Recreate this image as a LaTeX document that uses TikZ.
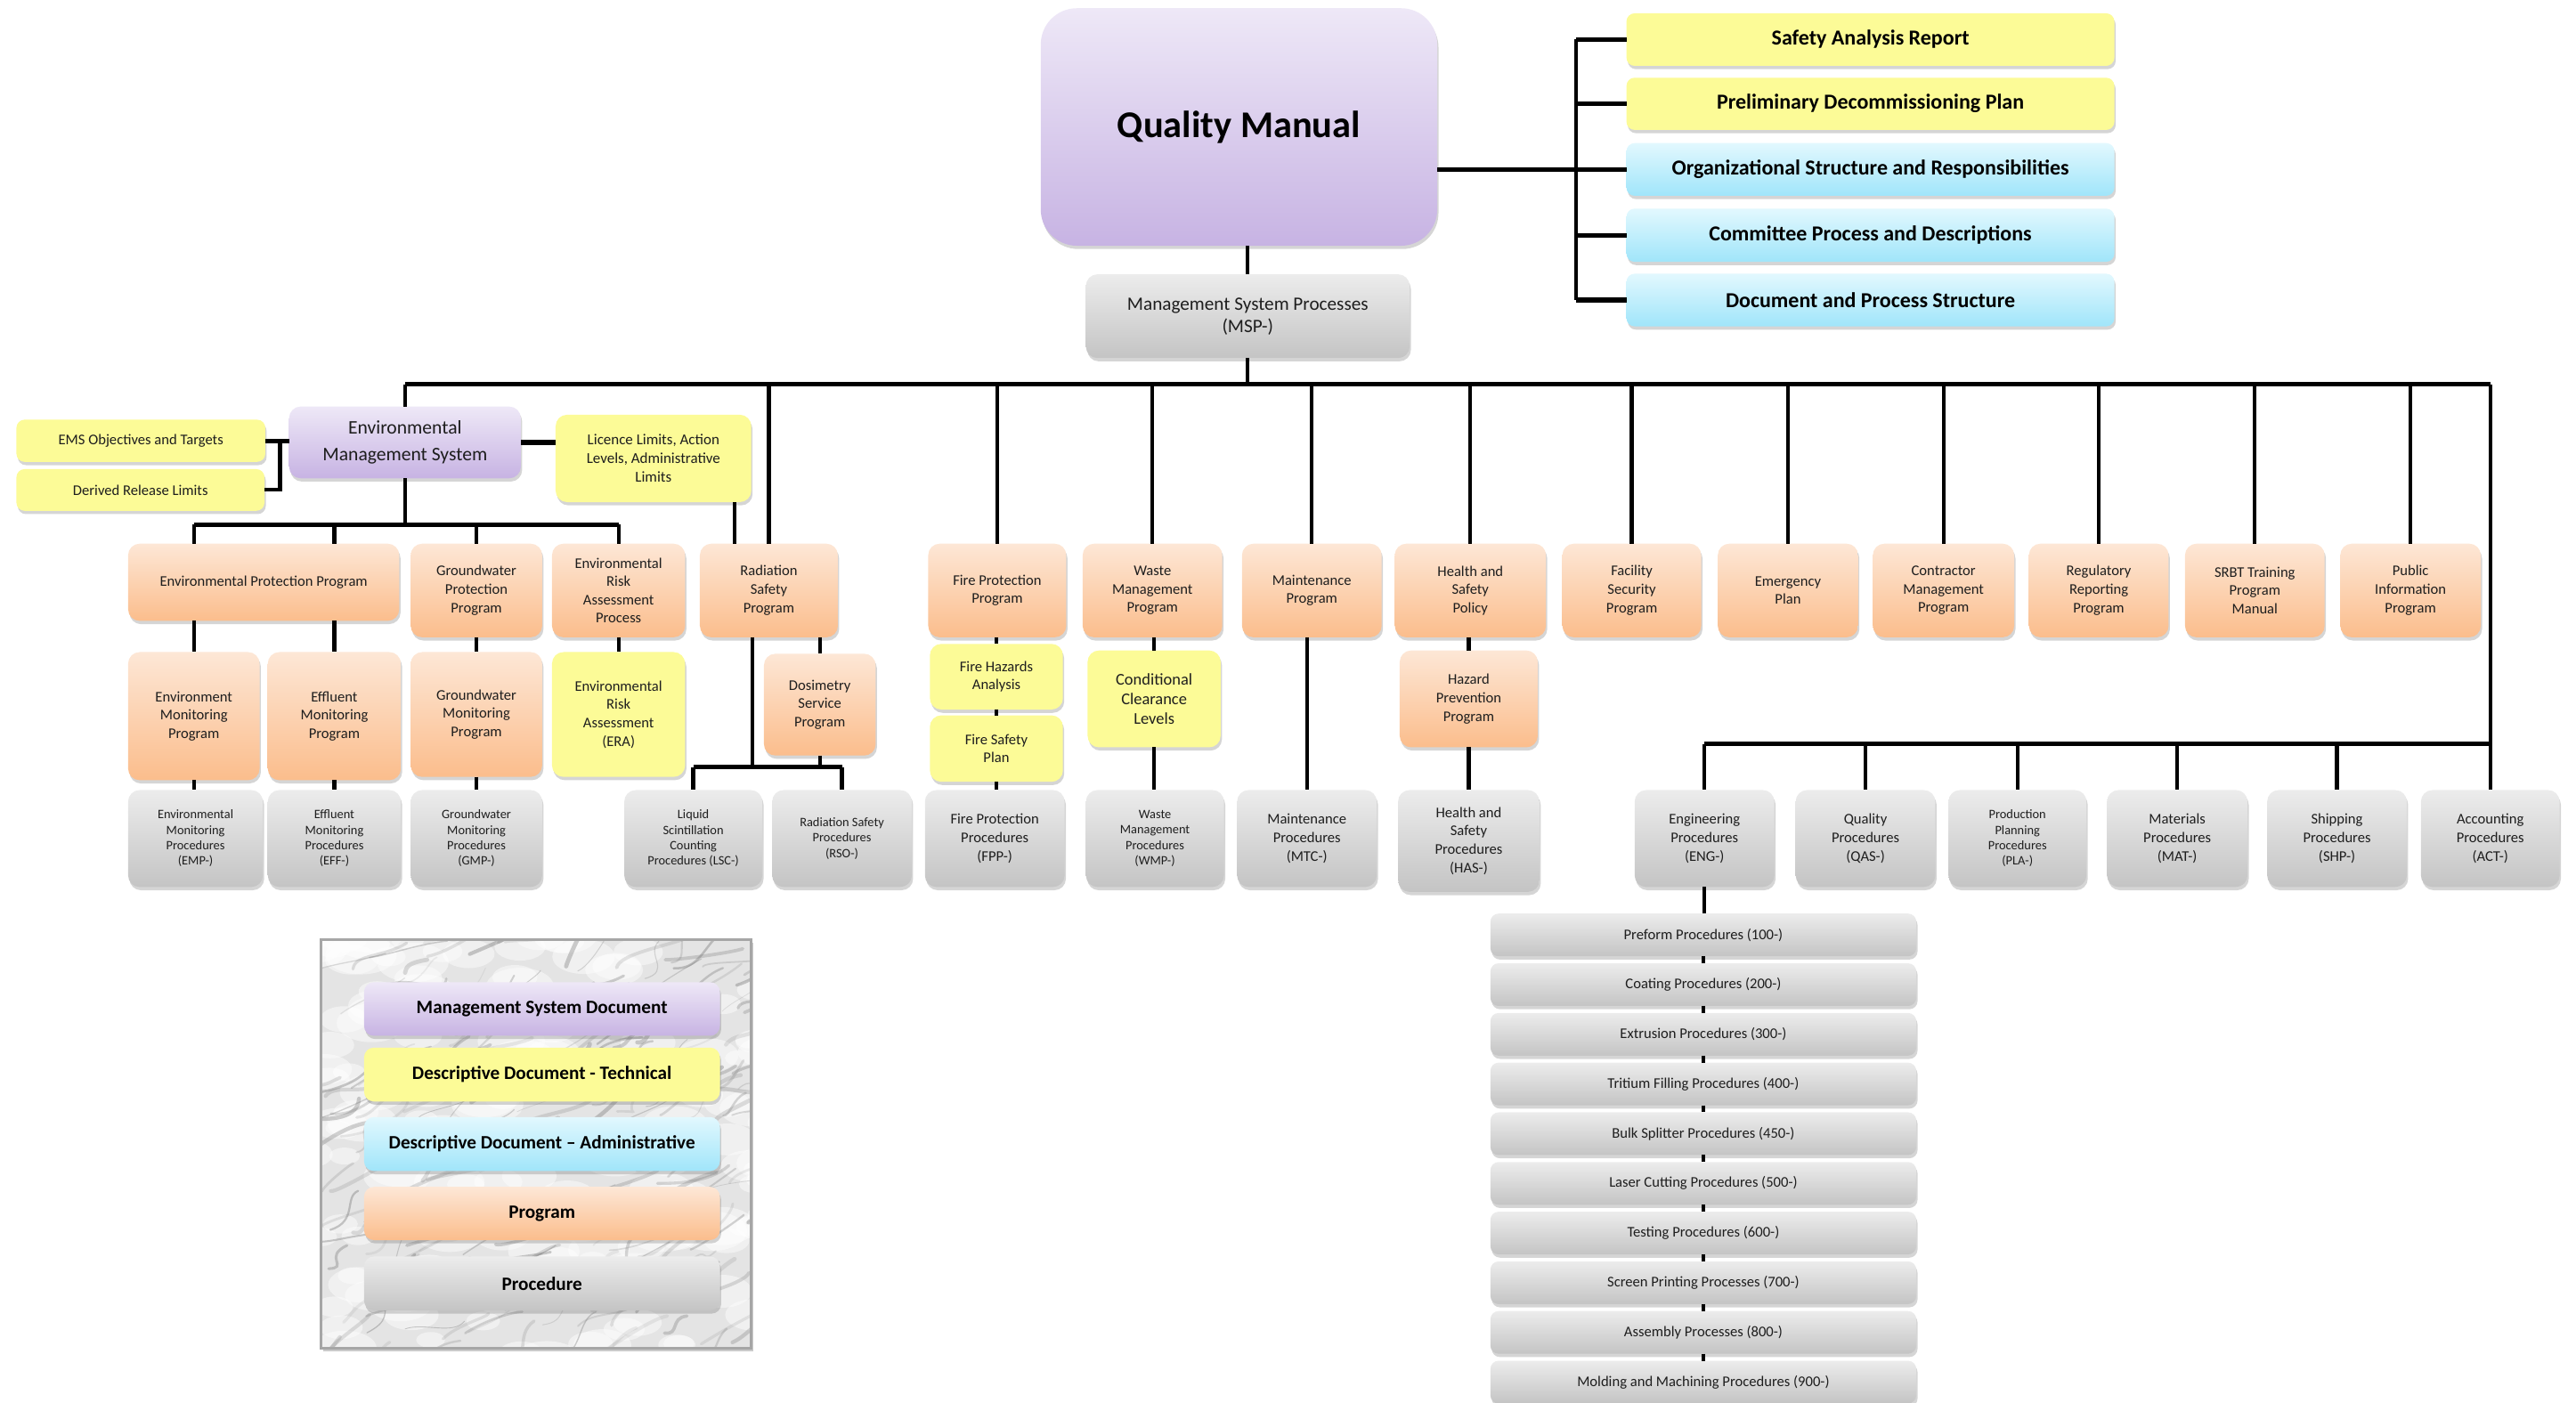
\documentclass[tikz,border=0pt]{standalone}
\usepackage{fontspec}
\setmainfont{Carlito}
\usetikzlibrary{shadows,calc}
\definecolor{cPurT}{HTML}{EEE8F7}
\definecolor{cPurB}{HTML}{C7B3E3}
\definecolor{cYel}{HTML}{FCFB97}
\definecolor{cBluT}{HTML}{E2F8FE}
\definecolor{cBluB}{HTML}{A0E5FA}
\definecolor{cOrT}{HTML}{FDE7D6}
\definecolor{cOrB}{HTML}{FBBD8C}
\definecolor{cGrT}{HTML}{ECECEC}
\definecolor{cGrB}{HTML}{C4C4C4}
\definecolor{txtC}{HTML}{1E1E1E}
\definecolor{cMarble}{HTML}{E4E4E4}
\tikzset{
  bxbase/.style={rounded corners=7pt, inner sep=1pt, outer sep=0pt, align=center, text=txtC,
    font=\fontsize{9}{11.2}\selectfont,
    drop shadow={shadow xshift=0.8pt, shadow yshift=-2pt, opacity=0.3, fill=black!55}},
  pur/.style={bxbase, top color=cPurT, bottom color=cPurB},
  yel/.style={bxbase, fill=cYel},
  blu/.style={bxbase, top color=cBluT, bottom color=cBluB},
  org/.style={bxbase, top color=cOrT, bottom color=cOrB},
  gry/.style={bxbase, top color=cGrT, bottom color=cGrB},
  fsm/.style={font=\fontsize{7.8}{9.4}\selectfont},
  trs/.style={font=\bfseries\fontsize{13}{15}\selectfont, text=black, rounded corners=5pt},
  legt/.style={font=\bfseries\fontsize{11.5}{13}\selectfont, text=black, rounded corners=6pt},
  lsty/.style={rounded corners=5pt},
  legframe/.style={draw=gray!70, line width=1.5pt, fill=cMarble, inner sep=0pt, outer sep=0pt,
    drop shadow={shadow xshift=1.5pt, shadow yshift=-2pt, opacity=0.35, fill=black!60}},
  conn/.style={line width=2.3pt, black},
  busl/.style={line width=2.8pt, black},
}
\newcommand{\bx}[7]{\node[#1, minimum width={(#5)-(#3)}, minimum height={(#6)-(#4)}] (#2) at ({((#3)+(#5))/2},{((#4)+(#6))/2}) {#7};}
\begin{document}
\begin{tikzpicture}[x=1pt,y=-1pt]
\useasboundingbox (0,0) rectangle (1568,853.7);

% ---------- top ----------
\bx{pur,rounded corners=22pt,font=\bfseries\fontsize{23}{27}\selectfont,text=black}{qm}{633.5}{5}{874.8}{149.6}{Quality Manual}
\bx{yel,trs}{sar}{990}{8.1}{1287}{40.1}{Safety Analysis Report}
\bx{yel,trs}{pdp}{990}{47.3}{1287}{79.1}{Preliminary Decommissioning Plan}
\bx{blu,trs}{org}{990}{87.1}{1287}{119.2}{Organizational Structure and Responsibilities}
\bx{blu,trs}{cpd}{990}{127}{1287}{159.4}{Committee Process and Descriptions}
\bx{blu,trs}{dps}{990}{166.6}{1287}{198.7}{Document and Process Structure}
\bx{gry,font=\fontsize{11.5}{13.5}\selectfont}{msp}{661}{167}{858}{218}{Management System Processes\\(MSP-)}

% ---------- EMS ----------
\bx{pur,font=\fontsize{11.7}{16.6}\selectfont}{ems}{176}{247.5}{317}{291.2}{Environmental\\Management System}
\bx{yel,rounded corners=5pt}{obj}{10}{255.5}{161.5}{281.2}{EMS Objectives and Targets}
\bx{yel,rounded corners=5pt}{drl}{10}{285.6}{161}{311}{Derived Release Limits}
\bx{yel,font=\fontsize{9.2}{11.4}\selectfont}{lic}{338.2}{252.5}{457.3}{305.7}{Licence Limits, Action\\Levels, Administrative\\Limits}

% ---------- row 2 ----------
\bx{org}{epp}{78}{331}{243}{378}{Environmental Protection Program}
\bx{org}{gpp}{250}{331}{330}{388}{Groundwater\\Protection\\Program}
\bx{org}{erap}{336}{331}{417}{388}{Environmental\\Risk\\Assessment\\Process}
\bx{org}{rsp}{426}{331}{510}{388}{Radiation\\Safety\\Program}
\bx{org}{fpprog}{565}{331}{649}{388}{Fire Protection\\Program}
\bx{org}{wmprog}{659}{331}{744}{388}{Waste\\Management\\Program}
\bx{org}{mp}{756}{331}{841}{388}{Maintenance\\Program}
\bx{org}{hsp}{849}{331}{941}{388}{Health and\\Safety\\Policy}
\bx{org}{fsp}{951}{331}{1035.5}{388}{Facility\\Security\\Program}
\bx{org}{ep}{1045.6}{331}{1131}{388}{Emergency\\Plan}
\bx{org}{cmp}{1140}{331}{1226}{388}{Contractor\\Management\\Program}
\bx{org}{rrp}{1235}{331}{1320}{388}{Regulatory\\Reporting\\Program}
\bx{org}{srbt}{1330}{331}{1415}{388}{SRBT Training\\Program\\Manual}
\bx{org}{pip}{1424.5}{331}{1510}{388}{Public\\Information\\Program}

% ---------- row 3 ----------
\bx{org}{envmon}{78}{397}{158}{475}{Environment\\Monitoring\\Program}
\bx{org}{eff}{163}{397}{244}{475}{Effluent\\Monitoring\\Program}
\bx{org}{gmprog}{250}{397}{330}{473}{Groundwater\\Monitoring\\Program}
\bx{yel}{era}{336}{397}{417}{473}{Environmental\\Risk\\Assessment\\(ERA)}
\bx{org}{dos}{465}{398}{533}{460}{Dosimetry\\Service\\Program}
\bx{yel}{fha}{566}{392}{647}{432}{Fire Hazards\\Analysis}
\bx{yel}{fsplan}{566}{435.5}{647}{476}{Fire Safety\\Plan}
\bx{yel,font=\fontsize{10}{12.1}\selectfont}{ccl}{662}{396}{743}{455}{Conditional\\Clearance\\Levels}
\bx{org}{hpp}{852}{396}{936}{455}{Hazard\\Prevention\\Program}

% ---------- row 4 ----------
\bx{gry,fsm}{emp}{78}{481}{160}{540}{Environmental\\Monitoring\\Procedures\\(EMP-)}
\bx{gry,fsm}{effp}{163}{481}{244}{540}{Effluent\\Monitoring\\Procedures\\(EFF-)}
\bx{gry,fsm}{gmp}{250}{481}{330}{540}{Groundwater\\Monitoring\\Procedures\\(GMP-)}
\bx{gry,fsm}{lsc}{380}{481}{464}{540}{Liquid\\Scintillation\\Counting\\Procedures (LSC-)}
\bx{gry,fsm}{rso}{470}{481}{555}{540}{Radiation Safety\\Procedures\\(RSO-)}
\bx{gry}{fpp}{563}{481}{648}{540}{Fire Protection\\Procedures\\(FPP-)}
\bx{gry,fsm}{wmp}{661}{481}{745}{540}{Waste\\Management\\Procedures\\(WMP-)}
\bx{gry}{mtc}{753}{481}{838}{540}{Maintenance\\Procedures\\(MTC-)}
\bx{gry}{has}{851}{481}{937}{543}{Health and\\Safety\\Procedures\\(HAS-)}
\bx{gry}{eng}{995}{481}{1080}{540}{Engineering\\Procedures\\(ENG-)}
\bx{gry}{qas}{1093}{481}{1178}{540}{Quality\\Procedures\\(QAS-)}
\bx{gry,fsm}{pla}{1186}{481}{1270}{540}{Production\\Planning\\Procedures\\(PLA-)}
\bx{gry}{mat}{1282.5}{481}{1368}{540}{Materials\\Procedures\\(MAT-)}
\bx{gry}{shp}{1380}{481}{1465}{540}{Shipping\\Procedures\\(SHP-)}
\bx{gry}{act}{1473.6}{481}{1558}{540}{Accounting\\Procedures\\(ACT-)}

% ---------- engineering list ----------
\foreach \t [count=\i from 0] in {Preform Procedures (100-),Coating Procedures (200-),Extrusion Procedures (300-),Tritium Filling Procedures (400-),Bulk Splitter Procedures (450-),Laser Cutting Procedures (500-),Testing Procedures (600-),Screen Printing Processes (700-),Assembly Processes (800-),Molding and Machining Procedures (900-)}{
  \bx{gry,lsty}{l\i}{907.2}{556.2+30.25*\i}{1166.4}{582.2+30.25*\i}{\t}
}

% ---------- legend ----------
\bx{legframe}{legend}{195.5}{572}{457.2}{821}{}
\begin{scope}
  \clip (legend.south west) rectangle (legend.north east);
  \pgfmathsetseed{42}
  \foreach \i in {1,...,160}{
    \pgfmathsetmacro{\xa}{185+285*rnd}
    \pgfmathsetmacro{\ya}{568+265*rnd}
    \pgfmathsetmacro{\rr}{8+14*rnd}
    \fill[white, opacity=0.45] (\xa,\ya) ellipse [x radius=\rr, y radius=0.55*\rr];
  }
  \foreach \i in {1,...,230}{
    \pgfmathsetmacro{\xa}{185+285*rnd}
    \pgfmathsetmacro{\ya}{570+265*rnd}
    \pgfmathsetmacro{\xb}{\xa+8+40*rnd}
    \pgfmathsetmacro{\yb}{\ya-4-22*rnd}
    \pgfmathsetmacro{\cxa}{\xa+18*rnd}
    \pgfmathsetmacro{\cya}{\ya+12*rnd-10}
    \pgfmathsetmacro{\cxb}{\xb-18*rnd}
    \pgfmathsetmacro{\cyb}{\yb+12*rnd}
    \pgfmathsetmacro{\lw}{0.4+2.2*rnd}
    \pgfmathsetmacro{\op}{0.10+0.28*rnd}
    \draw[black!55, line width=\lw pt, opacity=\op, line cap=round] (\xa,\ya) .. controls (\cxa,\cya) and (\cxb,\cyb) .. (\xb,\yb);
  }
\end{scope}
\draw[gray!70, line width=1.5pt] (legend.south west) rectangle (legend.north east);
\bx{pur,legt}{lg1}{221.6}{598}{438.2}{630.6}{Management System Document}
\bx{yel,legt}{lg2}{221.6}{637.8}{438.2}{670.6}{Descriptive Document - Technical}
\bx{blu,legt}{lg3}{221.6}{680.1}{438.2}{712.9}{Descriptive Document – Administrative}
\bx{org,legt}{lg4}{221.6}{722.6}{438.2}{755}{Program}
\bx{gry,legt}{lg5}{221.6}{765}{438.2}{797.8}{Procedure}

% ---------- connectors ----------
\coordinate (busY) at (0,234);
\coordinate (qv) at (959.3,0);
\coordinate (ov) at (170.5,0);
\coordinate (sbE) at (0,319.5);
\coordinate (sbR) at (0,467);
\coordinate (sbP) at (0,453);
\coordinate (lv) at (447,0);
\coordinate (rv1) at (458,0);

% quality manual
\draw[busl] (qm.east |- org.west) -- (qv |- org.west);
\draw[conn] (qv |- sar.west) -- (qv |- dps.west);
\foreach \n in {sar,pdp,org,cpd,dps} \draw[busl] (qv |- \n.west) -- (\n.west);
\draw[conn] (qm.south -| msp.north) -- (msp.north);
\draw[conn] (msp.south) -- (msp.south |- busY);

% main bus
\draw[busl] (ems.north |- busY) -- (act.north |- busY);
\foreach \n in {ems,rsp,fpprog,wmprog,mp,hsp,fsp,ep,cmp,rrp,srbt,pip} \draw[conn] (\n.north |- busY) -- (\n.north);
\draw[conn] (act.north |- busY) -- (act.north);

% EMS group
\draw[busl] (obj.east) -- (obj.east -| ems.west);
\draw[conn] (obj.east -| ov) -- (drl.east -| ov) -- (drl.east);
\draw[busl] (ems.east) -- (ems.east -| lic.west);
\draw[conn] (ems.south) -- (ems.south |- sbE);
\draw[busl] (envmon.north |- sbE) -- (erap.north |- sbE);
\draw[conn] (envmon.north |- sbE) -- (envmon.north |- epp.north);
\draw[conn] (eff.north |- sbE) -- (eff.north |- epp.north);
\draw[conn] (gpp.north |- sbE) -- (gpp.north);
\draw[conn] (erap.north |- sbE) -- (erap.north);
\draw[conn] (envmon.north |- epp.south) -- (envmon.north);
\draw[conn] (eff.north |- epp.south) -- (eff.north);
\draw[conn] (gpp.south) -- (gmprog.north);
\draw[conn] (erap.south) -- (era.north);
\draw[conn] (envmon.south) -- (envmon.south |- emp.north);
\draw[conn] (eff.south) -- (eff.south |- effp.north);
\draw[conn] (gmprog.south) -- (gmprog.south |- gmp.north);

% radiation safety
\draw[conn] (lv |- lic.south) -- (lv |- rsp.north);
\draw[conn] (rv1 |- rsp.south) -- (rv1 |- sbR);
\draw[conn] (dos.north |- rsp.south) -- (dos.north);
\draw[conn] (dos.south) -- (dos.south |- sbR);
\draw[busl] (lsc.north |- sbR) -- (rso.north |- sbR);
\draw[conn] (lsc.north |- sbR) -- (lsc.north);
\draw[conn] (rso.north |- sbR) -- (rso.north);

% fire, waste, maintenance, health
\draw[conn] (fha.north |- fpprog.south) -- (fha.north);
\draw[conn] (fha.south) -- (fsplan.north);
\draw[conn] (fsplan.south) -- (fsplan.south |- fpp.north);
\draw[conn] (ccl.north |- wmprog.south) -- (ccl.north);
\draw[conn] (ccl.south) -- (ccl.south |- wmp.north);
\draw[conn] (mtc.north |- mp.south) -- (mtc.north);
\draw[conn] (hpp.north |- hsp.south) -- (hpp.north);
\draw[conn] (hpp.south) -- (hpp.south |- has.north);

% procedures bus
\draw[busl] (eng.north |- sbP) -- (act.north |- sbP);
\foreach \n in {eng,qas,pla,mat,shp} \draw[conn] (\n.north |- sbP) -- (\n.north);
\draw[conn] (eng.south) -- (eng.south |- l0.north);
\foreach \i/\j in {0/1,1/2,2/3,3/4,4/5,5/6,6/7,7/8,8/9} \draw[conn] (l\i.south) -- (l\j.north);
\end{tikzpicture}
\end{document}
